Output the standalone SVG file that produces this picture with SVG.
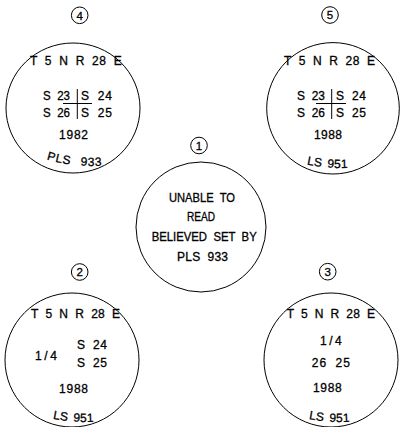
<svg xmlns="http://www.w3.org/2000/svg" width="400" height="427" viewBox="0 0 400 427">
<style>
.ring{fill:none;stroke:#000;stroke-width:1}
.ln{fill:none;stroke:#000;stroke-width:1}
text{font-family:"Liberation Sans",Arial,sans-serif;font-size:12px;fill:#000;stroke:#000;stroke-width:0.3px;word-spacing:3.5px}
.tag{font-size:11.5px;text-anchor:middle}
.arc{letter-spacing:0.2px;word-spacing:2px}
.arcp{letter-spacing:0.6px;word-spacing:6px}
</style>
<defs>
<path id="a4" d="M40,157.3 A160,160 0 0 0 130,161.4"/>
<path id="a5" d="M300,162.9 A160,160 0 0 0 380,162.9"/>
<path id="a2" d="M45,416.9 A160,160 0 0 0 125,416.9"/>
<path id="a3" d="M300,416.9 A160,160 0 0 0 380,416.9"/>
</defs>
<rect width="400" height="427" fill="#fff"/>
<g id="connectors"/>

<g id="node4">
<circle class="ring" cx="79.7" cy="15.3" r="8.3"/>
<text class="tag" x="79.7" y="19.5">4</text>
<ellipse class="ring" cx="73" cy="108" rx="67" ry="65"/>
<text x="30" y="65" textLength="91.7" lengthAdjust="spacing">T 5 N R 28 E</text>
<text x="43" y="100" textLength="27" lengthAdjust="spacingAndGlyphs">S 23</text>
<text x="81" y="100" textLength="31" lengthAdjust="spacing">S 24</text>
<text x="43" y="116.7" textLength="27" lengthAdjust="spacingAndGlyphs">S 26</text>
<text x="81" y="116.7" textLength="31" lengthAdjust="spacing">S 25</text>
<line class="ln" x1="77.3" y1="89" x2="77.3" y2="119"/>
<line class="ln" x1="63" y1="103.5" x2="92" y2="103.5"/>
<text x="59" y="139.3" textLength="29" lengthAdjust="spacing">1982</text>
<text class="arcp"><textPath href="#a4" startOffset="7">PLS 933</textPath></text>
</g>

<g id="node5">
<circle class="ring" cx="330" cy="15" r="8.3"/>
<text class="tag" x="330" y="19.2">5</text>
<ellipse class="ring" cx="333" cy="108.3" rx="66.3" ry="65.7"/>
<text x="284" y="65" textLength="91" lengthAdjust="spacing">T 5 N R 28 E</text>
<text x="297" y="100" textLength="28" lengthAdjust="spacingAndGlyphs">S 23</text>
<text x="336" y="100" textLength="30" lengthAdjust="spacing">S 24</text>
<text x="297" y="116.7" textLength="28" lengthAdjust="spacingAndGlyphs">S 26</text>
<text x="336" y="116.7" textLength="30" lengthAdjust="spacing">S 25</text>
<line class="ln" x1="331.7" y1="89" x2="331.7" y2="119"/>
<line class="ln" x1="316" y1="103.5" x2="346" y2="103.5"/>
<text x="314" y="139.3" textLength="28" lengthAdjust="spacing">1988</text>
<text class="arc"><textPath href="#a5" startOffset="7">LS 951</textPath></text>
</g>

<g id="node1">
<circle class="ring" cx="199" cy="145.5" r="8.3"/>
<text class="tag" x="199" y="149.7">1</text>
<circle class="ring" cx="201" cy="227" r="65"/>
<text x="169" y="202" textLength="66" lengthAdjust="spacingAndGlyphs">UNABLE TO</text>
<text x="187" y="220.7" textLength="28" lengthAdjust="spacingAndGlyphs">READ</text>
<text x="151.7" y="240.7" textLength="105" lengthAdjust="spacingAndGlyphs">BELIEVED SET BY</text>
<text x="177" y="260.7" textLength="51" lengthAdjust="spacing">PLS 933</text>
</g>

<g id="node2">
<circle class="ring" cx="79.7" cy="272" r="8.3"/>
<text class="tag" x="79.7" y="276.2">2</text>
<circle class="ring" cx="72" cy="360" r="67"/>
<text x="31" y="318" textLength="89" lengthAdjust="spacing">T 5 N R 28 E</text>
<text x="35" y="360" textLength="22" lengthAdjust="spacing">1/4</text>
<text x="77" y="349" textLength="30" lengthAdjust="spacing">S 24</text>
<text x="77" y="367" textLength="30" lengthAdjust="spacing">S 25</text>
<text x="59" y="392.5" textLength="29" lengthAdjust="spacing">1988</text>
<text class="arc"><textPath href="#a2" startOffset="8">LS 951</textPath></text>
</g>

<g id="node3">
<circle class="ring" cx="327.7" cy="271.7" r="8.3"/>
<text class="tag" x="327.7" y="275.9">3</text>
<circle class="ring" cx="331" cy="360" r="67"/>
<text x="286.7" y="318" textLength="88.3" lengthAdjust="spacing">T 5 N R 28 E</text>
<text x="320" y="345" textLength="21.7" lengthAdjust="spacing">1/4</text>
<text x="311.7" y="367" textLength="38.3" lengthAdjust="spacing">26 25</text>
<text x="313" y="392" textLength="28.7" lengthAdjust="spacing">1988</text>
<text class="arc"><textPath href="#a3" startOffset="9">LS 951</textPath></text>
</g>
</svg>
